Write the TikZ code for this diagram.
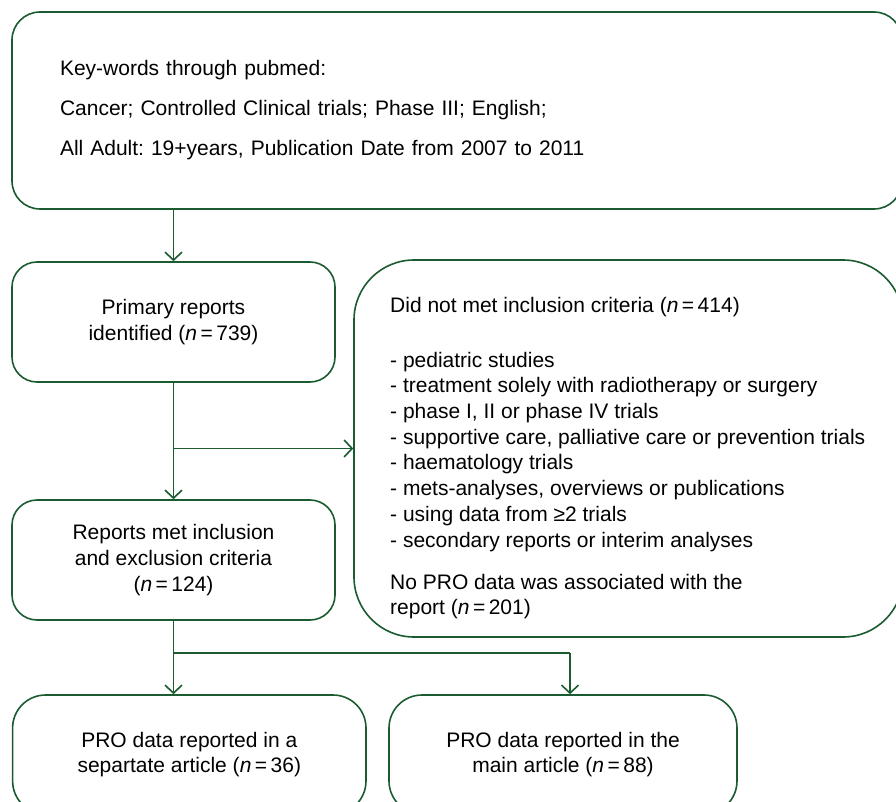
\documentclass[tikz,border=0pt]{standalone}
\usepackage{fontspec}
\setmainfont{Liberation Sans}
\usepackage{tikz}
\usetikzlibrary{arrows.meta}
\frenchspacing
\definecolor{flow_green}{RGB}{27, 91, 48}
\tikzstyle{keybox}=[rectangle,rounded corners=28pt,draw=flow_green,
  line width=1.6pt,inner sep=0pt,minimum width=890pt,minimum height=197pt,
  text width=794pt,align=left,font=\fontsize{21}{40}\selectfont]
\tikzstyle{stepbox}=[rectangle,rounded corners=25pt,draw=flow_green,
  line width=1.6pt,inner sep=0pt,minimum width=323pt,minimum height=120pt,
  align=center,font=\fontsize{21}{26}\selectfont]
\tikzstyle{outbox}=[rectangle,rounded corners=33pt,draw=flow_green,
  line width=1.6pt,inner sep=0pt,minimum height=119pt,
  align=center,font=\fontsize{21}{24.5}\selectfont]
\tikzstyle{exclbox}=[rectangle,rounded corners=60pt,draw=flow_green,
  line width=1.6pt,inner sep=0pt,minimum width=549pt,minimum height=377pt]
\tikzstyle{listtext}=[inner sep=0pt,align=left,font=\fontsize{21}{25.7}\selectfont]
\tikzstyle{none}=[inner sep=0pt,minimum size=0pt]
\tikzstyle{arrow}=[draw=flow_green,line width=1.6pt,
  -{Straight Barb[length=8pt,width=17pt]}]
\tikzstyle{line}=[draw=flow_green,line width=1.6pt]

\begin{document}
\begin{tikzpicture}[x=10pt, y=10pt]
		\path [use as bounding box, clip] (0, 0) rectangle (89.6, -80.2);
		\node [style=keybox] (0) at (45.7, -11.05) {Key-words through pubmed:\\
			Cancer; Controlled Clinical trials; Phase III; English;\\
			All Adult: 19+years, Publication Date from 2007 to 2011};
		\node [style=stepbox] (1) at (17.35, -32.2) {Primary reports\\
			identified (\textit{n}\,=\,739)};
		\node [style=exclbox] (2) at (62.85, -44.85) {};
		\node [style=listtext, anchor=north west] (3) at (39.0, -29.67) {Did not met inclusion criteria (\textit{n}\,=\,414)\\[29.3pt]
			- pediatric studies\\
			- treatment solely with radiotherapy or surgery\\
			- phase I, II or phase IV trials\\
			- supportive care, palliative care or prevention trials\\
			- haematology trials\\
			- mets-analyses, overviews or publications\\
			- using data from ≥2 trials\\
			- secondary reports or interim analyses\\[16.3pt]
			No PRO data was associated with the\\
			report (\textit{n}\,=\,201)};
		\node [style=stepbox] (4) at (17.35, -56.0) {Reports met inclusion\\
			and exclusion criteria\\
			(\textit{n}\,=\,124)};
		\node [style=outbox, minimum width=353.4pt] (5) at (18.93, -75.45) {PRO data reported in a\\
			separtate article (\textit{n}\,=\,36)};
		\node [style=outbox, minimum width=348pt] (6) at (56.3, -75.45) {PRO data reported in the\\
			main article (\textit{n}\,=\,88)};
		\node [style=none] (7) at (17.35, -44.85) {};
		\node [style=none] (8) at (17.35, -65.3) {};
		\node [style=none] (9) at (57.0, -65.3) {};
		\draw [style=arrow] (1 |- 0.south) to (1);
		\draw [style=arrow] (1) to (4);
		\draw [style=arrow] (7.center) to (2);
		\draw [style=arrow] (4) to (4 |- 5.north);
		\draw [style=line] (8.center) to (9.center);
		\draw [style=arrow] (9.center) to (9 |- 6.north);
\end{tikzpicture}
\end{document}
